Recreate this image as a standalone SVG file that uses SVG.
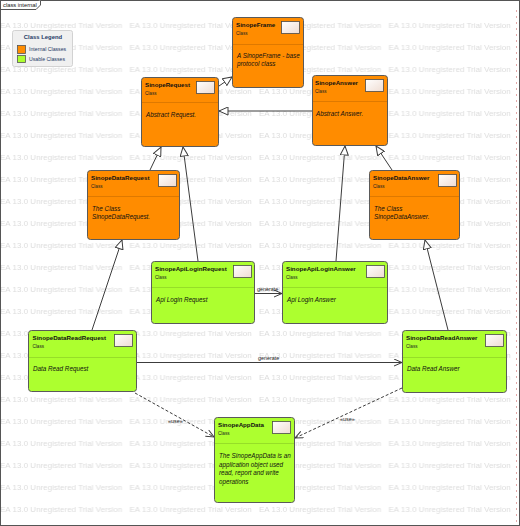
<svg xmlns="http://www.w3.org/2000/svg" width="520" height="526" viewBox="0 0 520 526">
  <defs>
    <style>
      text { font-family: "Liberation Sans", Arial, sans-serif; }
      .wm { font-size: 8px; fill: #dcdcdc; }
      .node { stroke: #5a5a5a; stroke-width: 1; }
      .internal { fill: #ff8c00; }
      .usable { fill: #adff2f; }
      .div { stroke: #000; stroke-opacity: 0.13; stroke-width: 1; }
      .icon { fill: url(#iconGrad); stroke: #4a4a4a; stroke-width: 0.8; }
      .name { font-size: 6.2px; font-weight: bold; fill: #111; }
      .kind { font-size: 4.6px; fill: #222; }
      .note { font-size: 6.3px; font-style: italic; fill: #111; }
      .conn { fill: none; stroke: #3c3c3c; stroke-width: 1; }
      .dash { stroke-dasharray: 3 2; }
      .lbl { font-size: 5.4px; fill: #222; }
      .leg { font-size: 5.2px; fill: #1f3a66; }
    </style>
    <linearGradient id="iconGrad" x1="0" y1="0" x2="1" y2="1">
      <stop offset="0" stop-color="#ffffff"/>
      <stop offset="1" stop-color="#efdcd2"/>
    </linearGradient>
    <pattern id="trial" patternUnits="userSpaceOnUse" x="0" y="12" width="129.5" height="22">
      <text class="wm" x="0" y="16">EA 13.0 Unregistered Trial Version</text>
    </pattern>
    <!-- generalization: hollow triangle -->
    <marker id="gen" markerUnits="userSpaceOnUse" viewBox="0 0 10 9" markerWidth="10" markerHeight="9" refX="9.5" refY="4.5" orient="auto">
      <path d="M0.5,0.5 L9.5,4.5 L0.5,8.5 Z" fill="#fff" stroke="#3c3c3c" stroke-width="1"/>
    </marker>
    <!-- dependency: open arrow -->
    <marker id="open" markerUnits="userSpaceOnUse" viewBox="0 0 9 8" markerWidth="9" markerHeight="8" refX="8.5" refY="4" orient="auto">
      <path d="M0.5,0.5 L8.5,4 L0.5,7.5" fill="none" stroke="#3c3c3c" stroke-width="1"/>
    </marker>
  </defs>

  <!-- canvas -->
  <rect x="0" y="0" width="520" height="526" fill="#fff"/>
  <rect x="1" y="12" width="517" height="513" fill="url(#trial)"/>
  <line x1="516.5" y1="10" x2="516.5" y2="524" stroke="#e2a9a9" stroke-width="1" stroke-dasharray="2 4"/>

  <!-- diagram frame -->
  <g id="frame">
    <rect x="0.5" y="0.5" width="519" height="525" fill="none" stroke="#555" stroke-width="1"/>
    <path d="M0.5,9.5 L36,9.5 L40.5,5 L40.5,0.5" fill="#fff" stroke="#555" stroke-width="1"/>
    <text x="3" y="7" style="font-size:5.8px;fill:#111">class internal</text>
  </g>

  <!-- legend -->
  <g id="legend">
    <rect x="12.5" y="30.5" width="60" height="36" rx="2" fill="#f0f0f0" stroke="#d2d2d2"/>
    <text x="43" y="39" text-anchor="middle" style="font-size:5.9px;font-weight:bold;fill:#1f3a66">Class Legend</text>
    <rect x="17.5" y="45.5" width="8" height="8" fill="#ff8c00" stroke="#555" stroke-width="0.8"/>
    <text class="leg" x="29" y="51">Internal Classes</text>
    <rect x="17.5" y="55.5" width="8" height="7" fill="#adff2f" stroke="#555" stroke-width="0.8"/>
    <text class="leg" x="29" y="60.5">Usable Classes</text>
  </g>

  <!-- connectors -->
  <g id="connectors">
    <line class="conn" x1="219" y1="86" x2="232" y2="77" marker-end="url(#gen)"/>
    <line class="conn" x1="312" y1="111" x2="219" y2="111" marker-end="url(#gen)"/>
    <line class="conn" x1="150" y1="170" x2="161" y2="147" marker-end="url(#gen)"/>
    <line class="conn" x1="198" y1="261" x2="183" y2="147" marker-end="url(#gen)"/>
    <line class="conn" x1="92" y1="330" x2="122" y2="240" marker-end="url(#gen)"/>
    <line class="conn" x1="336" y1="261" x2="345" y2="146" marker-end="url(#gen)"/>
    <line class="conn" x1="392" y1="170" x2="376" y2="146" marker-end="url(#gen)"/>
    <line class="conn" x1="448" y1="330" x2="425" y2="240" marker-end="url(#gen)"/>

    <line class="conn" x1="255" y1="293.5" x2="282" y2="293.5" marker-end="url(#open)"/>
    <text class="lbl" x="257" y="291">generate</text>
    <line class="conn" x1="137" y1="362.5" x2="402" y2="362.5" marker-end="url(#open)"/>
    <text class="lbl" x="258" y="360">generate</text>

    <line class="conn dash" x1="135" y1="393" x2="214" y2="437" marker-end="url(#open)"/>
    <text class="lbl" x="168" y="423">«use»</text>
    <line class="conn dash" x1="402" y1="388" x2="295" y2="438" marker-end="url(#open)"/>
    <text class="lbl" x="340" y="421">«use»</text>
  </g>

  <!-- classes -->
  <g id="SinopeFrame">
    <rect class="node internal" x="232.5" y="17.5" width="71" height="70" rx="3"/>
    <line class="div" x1="233" y1="44.5" x2="303" y2="44.5"/>
    <rect class="icon" x="281.5" y="21.5" width="18" height="12"/>
    <text class="name" x="236" y="27">SinopeFrame</text>
    <text class="kind" x="236" y="35">Class</text>
    <text class="note" x="237" y="57.5">A SinopeFrame - base</text>
    <text class="note" x="237" y="66.2">protocol class</text>
  </g>

  <g id="SinopeRequest">
    <rect class="node internal" x="141.5" y="77.5" width="77" height="69" rx="3"/>
    <line class="div" x1="142" y1="102.5" x2="218" y2="102.5"/>
    <rect class="icon" x="196.5" y="81.5" width="18" height="12"/>
    <text class="name" x="145" y="87">SinopeRequest</text>
    <text class="kind" x="145" y="95">Class</text>
    <text class="note" x="146" y="116.5">Abstract Request.</text>
  </g>

  <g id="SinopeAnswer">
    <rect class="node internal" x="312.5" y="75.5" width="75" height="70" rx="3"/>
    <line class="div" x1="313" y1="101.5" x2="387" y2="101.5"/>
    <rect class="icon" x="365.5" y="79.5" width="18" height="12"/>
    <text class="name" x="315" y="85">SinopeAnswer</text>
    <text class="kind" x="315" y="93">Class</text>
    <text class="note" x="316" y="115.5">Abstract Answer.</text>
  </g>

  <g id="SinopeDataRequest">
    <rect class="node internal" x="87.5" y="170.5" width="92" height="69" rx="3"/>
    <line class="div" x1="88" y1="196.5" x2="179" y2="196.5"/>
    <rect class="icon" x="158.5" y="174.5" width="18" height="12"/>
    <text class="name" x="91" y="180">SinopeDataRequest</text>
    <text class="kind" x="91" y="188">Class</text>
    <text class="note" x="92" y="210.5">The Class</text>
    <text class="note" x="92" y="219.2">SinopeDataRequest.</text>
  </g>

  <g id="SinopeDataAnswer">
    <rect class="node internal" x="369.5" y="170.5" width="90" height="69" rx="3"/>
    <line class="div" x1="370" y1="196.5" x2="459" y2="196.5"/>
    <rect class="icon" x="438.5" y="174.5" width="18" height="12"/>
    <text class="name" x="373" y="180">SinopeDataAnswer</text>
    <text class="kind" x="373" y="188">Class</text>
    <text class="note" x="374" y="210.5">The Class</text>
    <text class="note" x="374" y="219.2">SinopeDataAnswer.</text>
  </g>

  <g id="SinopeApiLoginRequest">
    <rect class="node usable" x="151.5" y="261.5" width="103" height="62" rx="3"/>
    <line class="div" x1="152" y1="287.5" x2="254" y2="287.5"/>
    <rect class="icon" x="233.5" y="265.5" width="18" height="12"/>
    <text class="name" x="155" y="271">SinopeApiLoginRequest</text>
    <text class="kind" x="155" y="279">Class</text>
    <text class="note" x="156" y="301.5">Api Login Request</text>
  </g>

  <g id="SinopeApiLoginAnswer">
    <rect class="node usable" x="282.5" y="261.5" width="105" height="62" rx="3"/>
    <line class="div" x1="283" y1="287.5" x2="387" y2="287.5"/>
    <rect class="icon" x="366.5" y="265.5" width="18" height="12"/>
    <text class="name" x="286" y="271">SinopeApiLoginAnswer</text>
    <text class="kind" x="286" y="279">Class</text>
    <text class="note" x="287" y="301.5">Api Login Answer</text>
  </g>

  <g id="SinopeDataReadRequest">
    <rect class="node usable" x="28.5" y="330.5" width="108" height="61" rx="3"/>
    <line class="div" x1="29" y1="357.5" x2="136" y2="357.5"/>
    <rect class="icon" x="114.5" y="334.5" width="18" height="12"/>
    <text class="name" x="32.5" y="340">SinopeDataReadRequest</text>
    <text class="kind" x="32.5" y="348">Class</text>
    <text class="note" x="33" y="370.5">Data Read Request</text>
  </g>

  <g id="SinopeDataReadAnswer">
    <rect class="node usable" x="402.5" y="330.5" width="104" height="62" rx="3"/>
    <line class="div" x1="403" y1="357.5" x2="506" y2="357.5"/>
    <rect class="icon" x="485.5" y="334.5" width="18" height="12"/>
    <text class="name" x="406" y="340">SinopeDataReadAnswer</text>
    <text class="kind" x="406" y="348">Class</text>
    <text class="note" x="407" y="370.5">Data Read Answer</text>
  </g>

  <g id="SinopeAppData">
    <rect class="node usable" x="214.5" y="417.5" width="80" height="85" rx="3"/>
    <line class="div" x1="215" y1="443.5" x2="294" y2="443.5"/>
    <rect class="icon" x="272.5" y="421.5" width="18" height="12"/>
    <text class="name" x="218" y="427">SinopeAppData</text>
    <text class="kind" x="218" y="435">Class</text>
    <text class="note" x="219" y="458">The SinopeAppData is an</text>
    <text class="note" x="219" y="466.5">application object used</text>
    <text class="note" x="219" y="475">read, report and write</text>
    <text class="note" x="219" y="483.5">operations</text>
  </g>
</svg>
